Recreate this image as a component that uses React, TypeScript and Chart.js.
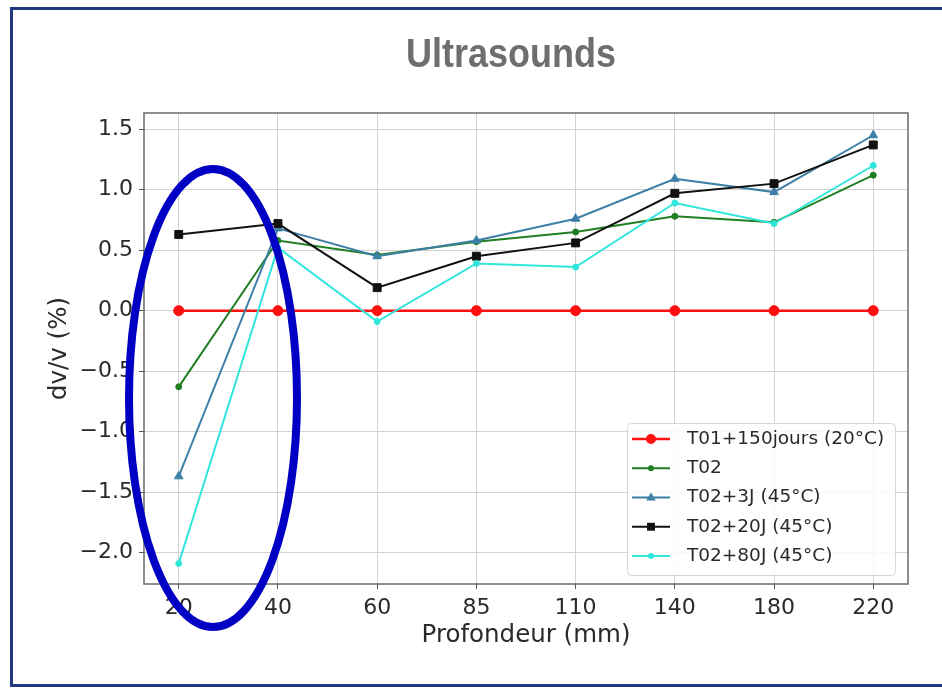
import React, { useEffect, useRef } from 'react';
import { Chart, registerables } from 'chart.js';

Chart.register(...registerables);

// ---- data ----
const categories = ['20', '40', '60', '85', '110', '140', '180', '220'];
const yTickValues = [-2.0, -1.5, -1.0, -0.5, 0.0, 0.5, 1.0, 1.5];

const seriesLabels = [
  'T01+150jours (20°C)',
  'T02',
  'T02+3J (45°C)',
  'T02+20J (45°C)',
  'T02+80J (45°C)',
];

const t01_150j = [0, 0, 0, 0, 0, 0, 0, 0];
const t02 = [-0.63, 0.58, 0.46, 0.57, 0.65, 0.78, 0.73, 1.12];
const t02_3j = [-1.37, 0.68, 0.45, 0.58, 0.76, 1.09, 0.98, 1.45];
const t02_20j = [0.63, 0.72, 0.19, 0.45, 0.56, 0.97, 1.05, 1.37];
const t02_80j = [-2.09, 0.52, -0.09, 0.39, 0.36, 0.89, 0.72, 1.2];

const seriesValues = [t01_150j, t02, t02_3j, t02_20j, t02_80j];
const seriesColors = ['#ff1010', '#1f7f22', '#3d7fa6', '#111111', '#30e6dc'];
const seriesMarkers = ['circle', 'circle', 'triangle', 'rect', 'circle'];
const seriesRadius = [5, 3, 5, 5.6, 3];
const seriesWidth = [2.5, 2, 2, 2, 2];

const FONT = '"DejaVu Sans", Verdana, sans-serif';

function drawMarker(ctx: CanvasRenderingContext2D, style: string, x: number, y: number, r: number, color: string) {
  ctx.fillStyle = color;
  ctx.beginPath();
  if (style === 'circle') {
    ctx.arc(x, y, r, 0, Math.PI * 2);
  } else if (style === 'triangle') {
    ctx.moveTo(x, y - r);
    ctx.lineTo(x + r * 0.95, y + r * 0.6);
    ctx.lineTo(x - r * 0.95, y + r * 0.6);
    ctx.closePath();
  } else {
    const s = r * Math.SQRT1_2;
    ctx.rect(x - s, y - s, 2 * s, 2 * s);
  }
  ctx.fill();
}

const decorPlugin = {
  id: 'decor',
  afterDraw(chart: any) {
    const ctx: CanvasRenderingContext2D = chart.ctx;
    const { left, top, right, bottom } = chart.chartArea;

    // plot frame
    ctx.save();
    ctx.strokeStyle = '#6a6a6a';
    ctx.lineWidth = 1.5;
    ctx.strokeRect(left, top, right - left, bottom - top);
    ctx.restore();

    // title
    ctx.save();
    ctx.fillStyle = '#6e6e6e';
    ctx.font = 'bold 40px "Liberation Sans", Arial, sans-serif';
    ctx.textAlign = 'center';
    ctx.textBaseline = 'alphabetic';
    ctx.translate(511, 67);
    ctx.scale(0.9, 1);
    ctx.fillText('Ultrasounds', 0, 0);
    ctx.restore();

    // highlight ellipse
    ctx.save();
    ctx.strokeStyle = '#0000c4';
    ctx.lineWidth = 8;
    ctx.beginPath();
    ctx.ellipse(213, 398, 84, 229, 0, 0, Math.PI * 2);
    ctx.stroke();
    ctx.restore();

    // legend
    ctx.save();
    const bx = 627, by = 423, bw = 268, bh = 152;
    ctx.fillStyle = 'rgba(255,255,255,0.85)';
    ctx.strokeStyle = '#d6d6d6';
    ctx.lineWidth = 1;
    ctx.beginPath();
    (ctx as any).roundRect ? (ctx as any).roundRect(bx + 0.5, by + 0.5, bw, bh, 4) : ctx.rect(bx + 0.5, by + 0.5, bw, bh);
    ctx.fill();
    ctx.stroke();
    ctx.font = `18.5px ${FONT}`;
    ctx.textAlign = 'left';
    ctx.textBaseline = 'middle';
    seriesLabels.forEach((lbl, i) => {
      const y = 439 + i * 29.25;
      ctx.strokeStyle = seriesColors[i];
      ctx.lineWidth = seriesWidth[i];
      ctx.beginPath();
      ctx.moveTo(632, y);
      ctx.lineTo(670, y);
      ctx.stroke();
      drawMarker(ctx, seriesMarkers[i], 651, y, seriesRadius[i], seriesColors[i]);
      ctx.fillStyle = '#2a2a2a';
      ctx.fillText(lbl, 687, y);
    });
    ctx.restore();

    // outer slide frame
    ctx.save();
    ctx.strokeStyle = '#22397f';
    ctx.lineWidth = 3;
    ctx.beginPath();
    ctx.moveTo(950, 8.5);
    ctx.lineTo(11.5, 8.5);
    ctx.lineTo(11.5, 685.5);
    ctx.lineTo(950, 685.5);
    ctx.stroke();
    ctx.restore();
  },
};

export default function App() {
  const ref = useRef<HTMLCanvasElement>(null);

  useEffect(() => {
    const datasets = seriesLabels.map((label, i) => ({
      label,
      data: seriesValues[i].map((v, k) => ({ x: k, y: v })),
      borderColor: seriesColors[i],
      backgroundColor: seriesColors[i],
      pointBackgroundColor: seriesColors[i],
      pointBorderColor: seriesColors[i],
      pointBorderWidth: 1,
      pointStyle: seriesMarkers[i] as any,
      pointRadius: seriesRadius[i],
      borderWidth: seriesWidth[i],
      tension: 0,
      fill: false,
      order: seriesLabels.length - i,
    }));

    const chart = new Chart(ref.current as HTMLCanvasElement, {
      type: 'line',
      data: { datasets },
      plugins: [decorPlugin],
      options: {
        animation: false,
        responsive: false,
        devicePixelRatio: 1,
        layout: { padding: { left: 0, top: 113, right: 34, bottom: 0 } },
        plugins: {
          legend: { display: false },
          tooltip: { enabled: false },
          title: { display: false },
        },
        scales: {
          x: {
            type: 'linear',
            min: -0.35,
            max: 7.35,
            afterBuildTicks: (s: any) => {
              s.ticks = categories.map((_, i) => ({ value: i }));
            },
            afterFit: (s: any) => {
              s.height = 104;
            },
            ticks: {
              autoSkip: false,
              maxRotation: 0,
              padding: 6,
              color: '#2a2a2a',
              font: { family: FONT, size: 22 },
              callback: (v: any) => categories[v] ?? '',
            },
            grid: { color: '#d2d2d2', lineWidth: 1, tickLength: 5, tickColor: '#555555' },
            border: { display: false },
            title: {
              display: true,
              text: 'Profondeur (mm)',
              color: '#2a2a2a',
              font: { family: FONT, size: 24.5 },
              padding: { top: 0, bottom: 38 },
            },
          },
          y: {
            type: 'linear',
            min: -2.26,
            max: 1.634,
            afterBuildTicks: (s: any) => {
              s.ticks = yTickValues.map((v) => ({ value: v }));
            },
            afterFit: (s: any) => {
              s.width = 144;
            },
            ticks: {
              padding: 6,
              color: '#2a2a2a',
              font: { family: FONT, size: 22 },
              callback: (v: any) => (v < 0 ? '\u2212' : '') + Math.abs(Number(v)).toFixed(1),
            },
            grid: { color: '#d2d2d2', lineWidth: 1, tickLength: 5, tickColor: '#555555' },
            border: { display: false },
            title: {
              display: true,
              text: 'dv/v (%)',
              color: '#2a2a2a',
              font: { family: FONT, size: 24.5 },
              padding: { top: 45, bottom: 0 },
            },
          },
        },
      } as any,
    });
    return () => chart.destroy();
  }, []);

  return (
    <div style={{ position: 'absolute', left: 0, top: 0, width: 942, height: 688, background: '#ffffff' }}>
      <canvas ref={ref} width={942} height={688} style={{ display: 'block', width: 942, height: 688 }} />
    </div>
  );
}
